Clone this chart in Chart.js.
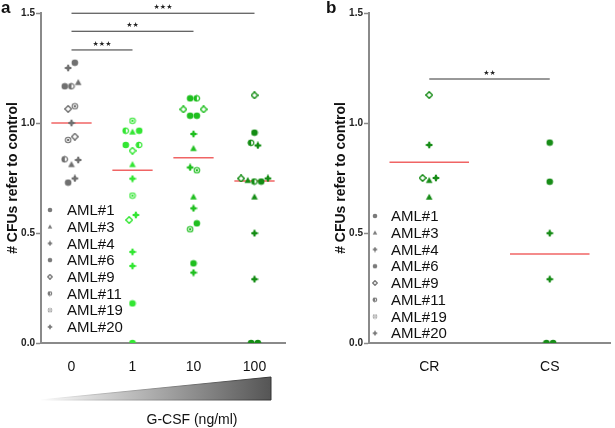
<!DOCTYPE html>
<html>
<head>
<meta charset="utf-8">
<script src="https://cdn.jsdelivr.net/npm/chart.js@4.4.0/dist/chart.umd.min.js"></script>
<style>
  html, body { margin: 0; padding: 0; background: #fff; }
  body { width: 615px; height: 428px; position: relative; overflow: hidden; font-family: "Liberation Sans", Arial, sans-serif; }
  canvas { position: absolute; top: 0; }
  #chartA { left: 0; }
  #chartB { left: 328px; }
  .tag { position: absolute; top: -2px; font: bold 17px "Liberation Sans", Arial, sans-serif; color: #111; }
</style>
</head>
<body>
<canvas id="chartA" width="300" height="428"></canvas>
<canvas id="chartB" width="287" height="428"></canvas>
<div class="tag" style="left:1px">a</div>
<div class="tag" style="left:326px">b</div>
<script>
// patients (legend order)
const patients = ["AML#1", "AML#3", "AML#4", "AML#6", "AML#9", "AML#11", "AML#19", "AML#20"];

// panel a: CFUs vs G-CSF dose, values + patient index per point
const doseLabels = ["0", "1", "10", "100"];
const dose0 = [1.25, 1.274, 1.167, 1.167, 1.185, 1.064, 1.076, 1.0, 0.923, 0.938, 0.835, 0.812, 0.832, 0.729, 0.748];
const dose0Pt = [2, 0, 3, 5, 1, 4, 6, 7, 6, 4, 5, 1, 2, 0, 7];
const dose1 = [1.01, 0.965, 0.96, 0.965, 0.9, 0.874, 0.9, 0.812, 0.747, 0.67, 0.559, 0.582, 0.414, 0.35, 0.18, 0.0];
const dose1Pt = [6, 5, 1, 3, 0, 4, 5, 1, 2, 6, 4, 7, 2, 7, 0, 3];
const dose10 = [1.112, 1.112, 1.062, 1.033, 1.033, 1.062, 0.95, 0.885, 0.798, 0.785, 0.665, 0.612, 0.517, 0.544, 0.362, 0.32];
const dose10Pt = [0, 5, 4, 3, 0, 4, 2, 1, 7, 6, 1, 2, 6, 0, 3, 7];
const dose100 = [1.126, 0.956, 0.91, 0.898, 0.748, 0.74, 0.734, 0.734, 0.748, 0.665, 0.499, 0.29, 0.0, 0.0];
const dose100Pt = [4, 0, 5, 2, 4, 1, 5, 3, 7, 1, 2, 7, 0, 3];
const doseMedian = [1.0, 0.785, 0.842, 0.736];

// significance brackets, panel a
const bracketFrom = [0, 0, 0];
const bracketTo = [1, 2, 3];
const bracketY = [1.332, 1.417, 1.499];
const bracketStars = ["★★★", "★★", "★★★"];

// panel b: CR vs CS
const respLabels = ["CR", "CS"];
const crVals = [1.127, 0.9, 0.75, 0.74, 0.75, 0.664];
const crPt = [4, 2, 4, 1, 7, 1];
const csVals = [0.911, 0.733, 0.499, 0.29, 0.0, 0.0];
const csPt = [0, 3, 2, 7, 0, 3];
const respMean = [0.822, 0.404];
const respBracketY = 1.2;
const respStars = "★★";

const COLORS = {
  dose: ["#707070", "#33e633", "#1fbf1f", "#138c13"],
  resp: "#178c17",
  median: "#f06464",
  bracket: "#333",
  axis: "#8a8a8a",
  text: "#111",
  legend: "#7a7a7a",
};
const FONT = '"Liberation Sans", Arial, sans-serif';
const MARKER_KIND = ["dot", "tri", "plus", "dot", "open", "half", "ring", "plus"];

const markerCache = {};
function marker(kind, color, s) {
  const key = kind + color + s;
  if (markerCache[key]) return markerCache[key];
  const c = document.createElement("canvas");
  c.width = c.height = s;
  const g = c.getContext("2d");
  const m = s / 2, r = s / 2 - 0.7;
  g.fillStyle = color;
  g.strokeStyle = color;
  const circle = (rr) => { g.beginPath(); g.arc(m, m, rr, 0, Math.PI * 2); };
  if (kind === "dot") {
    circle(r); g.fill();
  } else if (kind === "tri") {
    g.beginPath(); g.moveTo(m, m - r); g.lineTo(m + r, m + r * 0.8); g.lineTo(m - r, m + r * 0.8); g.closePath(); g.fill();
  } else if (kind === "plus") {
    const a = r * 0.32;
    g.fillRect(m - a, m - r, 2 * a, 2 * r);
    g.fillRect(m - r, m - a, 2 * r, 2 * a);
    circle(r * 0.62); g.fill();
  } else if (kind === "open") {
    g.beginPath(); g.moveTo(m, m - r); g.lineTo(m + r, m); g.lineTo(m, m + r); g.lineTo(m - r, m); g.closePath();
    g.fillStyle = "#fff"; g.fill(); g.lineWidth = 1.4; g.stroke();
  } else if (kind === "half") {
    circle(r - 0.6); g.fillStyle = "#fff"; g.fill(); g.lineWidth = 1.2; g.stroke();
    g.beginPath(); g.arc(m, m, r, Math.PI / 2, Math.PI * 1.5); g.closePath(); g.fillStyle = color; g.fill();
  } else if (kind === "ring") {
    circle(r); g.fill();
    circle(r * 0.55); g.strokeStyle = "#fff"; g.lineWidth = 1; g.stroke();
  }
  markerCache[key] = c;
  return c;
}

// spread points sitting at (almost) the same height side by side
function spread(vals, step, tol) {
  const off = new Array(vals.length).fill(0);
  let start = 0;
  for (let i = 1; i <= vals.length; i++) {
    if (i === vals.length || Math.abs(vals[i] - vals[i - 1]) > tol) {
      const n = i - start;
      for (let k = 0; k < n; k++) off[start + k] = (k - (n - 1) / 2) * step;
      start = i;
    }
  }
  return off;
}

function groupDataset(vals, pts, idx, color, step) {
  const off = spread(vals, step, 0.03);
  return {
    data: vals.map((v, i) => ({ x: idx + off[i], y: v })),
    pointStyle: pts.map((p) => marker(MARKER_KIND[p], color, 8)),
    pointRadius: 4,
    showLine: false,
  };
}

function segment(x0, x1, y, color, width) {
  return {
    data: [{ x: x0, y }, { x: x1, y }],
    showLine: true, borderColor: color, borderWidth: width, pointRadius: 0, clip: false,
  };
}

function baseOptions(labels, padRight) {
  return {
    responsive: false,
    animation: false,
    layout: { padding: { top: 13, right: padRight, left: 0, bottom: 0 } },
    plugins: { legend: { display: false }, tooltip: { enabled: false } },
    scales: {
      x: {
        type: "linear", min: -0.5, max: labels.length - 0.5,
        afterFit: (s) => { s.height = 85; },
        afterBuildTicks: (s) => { s.ticks = labels.map((l, i) => ({ value: i })); },
        ticks: { callback: (v) => labels[v], font: { family: FONT, size: 14 }, color: COLORS.text, padding: 16, autoSkip: false, maxRotation: 0 },
        grid: { display: false, drawTicks: false },
        border: { color: COLORS.axis, width: 2 },
      },
      y: {
        min: 0, max: 1.5,
        afterFit: (s) => { s.width = 41; },
        ticks: { stepSize: 0.5, callback: (v) => v.toFixed(1), font: { family: FONT, size: 10, weight: "bold" }, color: "#222", padding: 1 },
        grid: { drawOnChartArea: false, drawTicks: true, tickLength: 5, color: COLORS.axis, tickWidth: 1.5 },
        border: { color: COLORS.axis, width: 2 },
        title: { display: true, text: "# CFUs refer to control", font: { family: FONT, size: 14, weight: "bold" }, color: COLORS.text, padding: { top: 5, bottom: 0 } },
      },
    },
  };
}

function legendPlugin(markerDx, textDx, y0, dy) {
  return {
    id: "patientLegend",
    afterDraw(chart) {
      const { ctx, chartArea } = chart;
      ctx.save();
      ctx.font = `15px ${FONT}`;
      ctx.fillStyle = COLORS.text;
      ctx.textBaseline = "middle";
      patients.forEach((p, i) => {
        const y = y0 + i * dy;
        const img = marker(MARKER_KIND[i], COLORS.legend, 6);
        ctx.drawImage(img, chartArea.left + markerDx - 3, y - 3);
        ctx.fillText(p, chartArea.left + textDx, y + 1);
      });
      ctx.restore();
    },
  };
}

function starPlugin(from, to, ys, stars) {
  return {
    id: "stars",
    afterDraw(chart) {
      const { ctx, scales } = chart;
      ctx.save();
      ctx.font = '7px "DejaVu Sans", sans-serif';
      ctx.fillStyle = "#222";
      ctx.textAlign = "center";
      ctx.textBaseline = "middle";
      ys.forEach((y, i) => {
        const x = scales.x.getPixelForValue((from[i] + to[i]) / 2);
        ctx.fillText(stars[i], x, scales.y.getPixelForValue(y) - 6);
      });
      ctx.restore();
    },
  };
}

const gcsfPlugin = {
  id: "gcsf",
  afterDraw(chart) {
    const { ctx, chartArea } = chart;
    const x0 = chartArea.left - 1, x1 = chartArea.right - 14;
    const yb = chartArea.bottom + 57, yt = chartArea.bottom + 34;
    ctx.save();
    const fill = ctx.createLinearGradient(x0, 0, x1, 0);
    fill.addColorStop(0, "#ffffff");
    fill.addColorStop(1, "#555555");
    const edge = ctx.createLinearGradient(x0, 0, x1, 0);
    edge.addColorStop(0, "#ffffff");
    edge.addColorStop(0.25, "#bbbbbb");
    edge.addColorStop(1, "#333333");
    ctx.beginPath();
    ctx.moveTo(x0, yb); ctx.lineTo(x1, yt); ctx.lineTo(x1, yb); ctx.closePath();
    ctx.fillStyle = fill; ctx.fill();
    ctx.strokeStyle = edge; ctx.lineWidth = 1; ctx.stroke();
    ctx.font = `14px ${FONT}`;
    ctx.fillStyle = COLORS.text;
    ctx.textAlign = "center";
    ctx.textBaseline = "middle";
    ctx.fillText("G-CSF (ng/ml)", 192, chartArea.bottom + 77);
    ctx.restore();
  },
};

// panel a
const doseValues = [dose0, dose1, dose10, dose100];
const dosePts = [dose0Pt, dose1Pt, dose10Pt, dose100Pt];
const dsA = doseValues.map((vals, i) => groupDataset(vals, dosePts[i], i, COLORS.dose[i], 0.11));
doseMedian.forEach((m, i) => dsA.push(segment(i - 0.33, i + 0.33, m, COLORS.median, 1.5)));
bracketY.forEach((y, i) => dsA.push(segment(bracketFrom[i], bracketTo[i], y, COLORS.bracket, 1)));

new Chart(document.getElementById("chartA"), {
  type: "scatter",
  data: { datasets: dsA },
  options: baseOptions(doseLabels, 15),
  plugins: [legendPlugin(9, 26, 210, 16.7), starPlugin(bracketFrom, bracketTo, bracketY, bracketStars), gcsfPlugin],
});

// panel b
const dsB = [
  groupDataset(crVals, crPt, 0, COLORS.resp, 0.055),
  groupDataset(csVals, csPt, 1, COLORS.resp, 0.055),
];
respMean.forEach((m, i) => dsB.push(segment(i - 0.33, i + 0.33, m, COLORS.median, 1.5)));
dsB.push(segment(0, 1, respBracketY, COLORS.bracket, 1));

new Chart(document.getElementById("chartB"), {
  type: "scatter",
  data: { datasets: dsB },
  options: baseOptions(respLabels, 2),
  plugins: [legendPlugin(6, 22, 216, 16.75), starPlugin([0], [1], [respBracketY], [respStars])],
});
</script>
</body>
</html>
